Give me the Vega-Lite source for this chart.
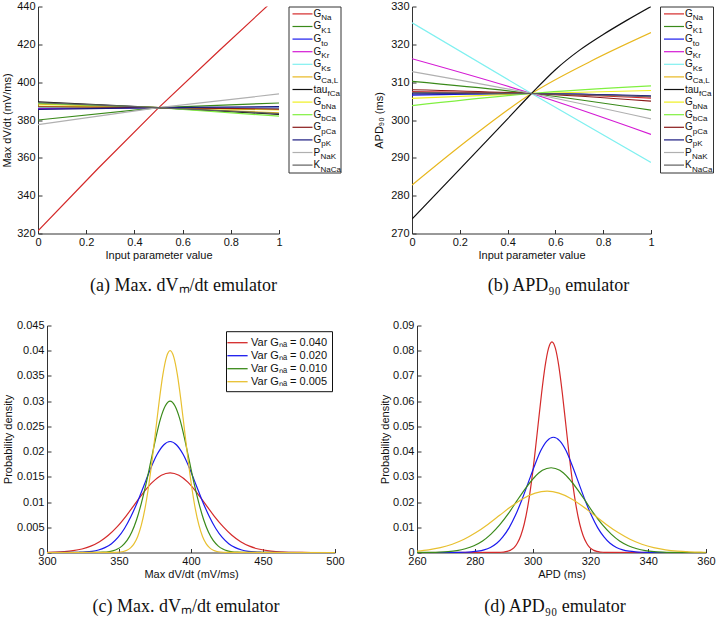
{
  "$schema": "https://vega.github.io/schema/vega-lite/v6.json",
  "background": "white",
  "padding": {"left": 1, "top": 0.5, "right": 0, "bottom": 0},
  "autosize": {"type": "pad"},
  "spacing": 25,
  "resolve": {"scale": {"color": "independent", "x": "independent", "y": "independent"}, "legend": {"color": "independent"}},
  "config": {
    "view": {"stroke": null},
    "font": "Liberation Sans",
    "axis": {"domainColor": "#333", "domainWidth": 1, "tickColor": "#333", "tickSize": -4, "labelColor": "#111", "titleColor": "#111", "labelFontSize": 11, "titleFontSize": 11, "titleFontWeight": "normal", "labelFont": "Liberation Sans", "titleFont": "Liberation Sans", "grid": false, "labelPadding": 7, "labelFlush": false, "labelOverlap": false},
    "axisX": {"titlePadding": 2},
    "title": {"font": "Liberation Serif", "fontSize": 18, "fontWeight": "normal", "color": "#111", "orient": "bottom", "anchor": "middle"}
  },
  "datasets": {
    "legend": [
      {"p": "G_Na", "base": "G", "sub": "Na"},
      {"p": "G_K1", "base": "G", "sub": "K1"},
      {"p": "G_to", "base": "G", "sub": "to"},
      {"p": "G_Kr", "base": "G", "sub": "Kr"},
      {"p": "G_Ks", "base": "G", "sub": "Ks"},
      {"p": "G_CaL", "base": "G", "sub": "Ca,L"},
      {"p": "tau_fCa", "base": "tau", "sub": "fCa"},
      {"p": "G_bNa", "base": "G", "sub": "bNa"},
      {"p": "G_bCa", "base": "G", "sub": "bCa"},
      {"p": "G_pCa", "base": "G", "sub": "pCa"},
      {"p": "G_pK", "base": "G", "sub": "pK"},
      {"p": "P_NaK", "base": "P", "sub": "NaK"},
      {"p": "K_NaCa", "base": "K", "sub": "NaCa"}
    ],
    "a": [
      {"p": "G_Na", "x": 0, "y": 321.4}, {"p": "G_Na", "x": 0.25, "y": 354.5}, {"p": "G_Na", "x": 0.5, "y": 386.4}, {"p": "G_Na", "x": 0.75, "y": 416.5}, {"p": "G_Na", "x": 1, "y": 446},
      {"p": "G_K1", "x": 0, "y": 380.0}, {"p": "G_K1", "x": 0.5, "y": 386.5}, {"p": "G_K1", "x": 1, "y": 389.0},
      {"p": "G_to", "x": 0, "y": 386.0}, {"p": "G_to", "x": 0.5, "y": 386.5}, {"p": "G_to", "x": 1, "y": 386.4},
      {"p": "G_Kr", "x": 0, "y": 386.3}, {"p": "G_Kr", "x": 0.5, "y": 386.5}, {"p": "G_Kr", "x": 1, "y": 386.6},
      {"p": "G_Ks", "x": 0, "y": 386.6}, {"p": "G_Ks", "x": 0.5, "y": 386.5}, {"p": "G_Ks", "x": 1, "y": 386.4},
      {"p": "G_CaL", "x": 0, "y": 388.4}, {"p": "G_CaL", "x": 0.5, "y": 386.5}, {"p": "G_CaL", "x": 1, "y": 383.8},
      {"p": "tau_fCa", "x": 0, "y": 389.6}, {"p": "tau_fCa", "x": 0.5, "y": 386.5}, {"p": "tau_fCa", "x": 1, "y": 383.0},
      {"p": "G_bNa", "x": 0, "y": 387.3}, {"p": "G_bNa", "x": 0.5, "y": 386.5}, {"p": "G_bNa", "x": 1, "y": 385.3},
      {"p": "G_bCa", "x": 0, "y": 388.8}, {"p": "G_bCa", "x": 0.5, "y": 386.5}, {"p": "G_bCa", "x": 1, "y": 382.0},
      {"p": "G_pCa", "x": 0, "y": 387.0}, {"p": "G_pCa", "x": 0.5, "y": 386.5}, {"p": "G_pCa", "x": 1, "y": 385.8},
      {"p": "G_pK", "x": 0, "y": 385.6}, {"p": "G_pK", "x": 0.5, "y": 386.5}, {"p": "G_pK", "x": 1, "y": 387.1},
      {"p": "P_NaK", "x": 0, "y": 377.5}, {"p": "P_NaK", "x": 0.5, "y": 386.5}, {"p": "P_NaK", "x": 1, "y": 393.8},
      {"p": "K_NaCa", "x": 0, "y": 389.2}, {"p": "K_NaCa", "x": 0.5, "y": 386.5}, {"p": "K_NaCa", "x": 1, "y": 383.4}
    ],
    "b": [
      {"p": "G_Na", "x": 0, "y": 307.5}, {"p": "G_Na", "x": 0.5, "y": 307}, {"p": "G_Na", "x": 1, "y": 305.8},
      {"p": "G_K1", "x": 0, "y": 310.2}, {"p": "G_K1", "x": 0.5, "y": 307}, {"p": "G_K1", "x": 1, "y": 302.6},
      {"p": "G_to", "x": 0, "y": 306.6}, {"p": "G_to", "x": 0.5, "y": 307}, {"p": "G_to", "x": 1, "y": 306.2},
      {"p": "G_Kr", "x": 0, "y": 316.2}, {"p": "G_Kr", "x": 0.5, "y": 307}, {"p": "G_Kr", "x": 1, "y": 296.2},
      {"p": "G_Ks", "x": 0, "y": 325.7}, {"p": "G_Ks", "x": 0.5, "y": 307}, {"p": "G_Ks", "x": 1, "y": 288.8},
      {"p": "G_CaL", "x": 0, "y": 282.8}, {"p": "G_CaL", "x": 0.25, "y": 295.5}, {"p": "G_CaL", "x": 0.5, "y": 307}, {"p": "G_CaL", "x": 0.75, "y": 315.6}, {"p": "G_CaL", "x": 1, "y": 323.1},
      {"p": "tau_fCa", "x": 0, "y": 273.8}, {"p": "tau_fCa", "x": 0.2, "y": 287}, {"p": "tau_fCa", "x": 0.4, "y": 300.3}, {"p": "tau_fCa", "x": 0.5, "y": 307}, {"p": "tau_fCa", "x": 0.6, "y": 313.3}, {"p": "tau_fCa", "x": 0.7, "y": 318.4}, {"p": "tau_fCa", "x": 0.8, "y": 322.6}, {"p": "tau_fCa", "x": 0.9, "y": 326.4}, {"p": "tau_fCa", "x": 1, "y": 330},
      {"p": "G_bNa", "x": 0, "y": 305.7}, {"p": "G_bNa", "x": 0.5, "y": 307}, {"p": "G_bNa", "x": 1, "y": 307.8},
      {"p": "G_bCa", "x": 0, "y": 303.8}, {"p": "G_bCa", "x": 0.5, "y": 307}, {"p": "G_bCa", "x": 1, "y": 309.0},
      {"p": "G_pCa", "x": 0, "y": 308.0}, {"p": "G_pCa", "x": 0.5, "y": 307}, {"p": "G_pCa", "x": 1, "y": 305.0},
      {"p": "G_pK", "x": 0, "y": 306.9}, {"p": "G_pK", "x": 0.5, "y": 307}, {"p": "G_pK", "x": 1, "y": 306.4},
      {"p": "P_NaK", "x": 0, "y": 312.8}, {"p": "P_NaK", "x": 0.5, "y": 307}, {"p": "P_NaK", "x": 1, "y": 300.3},
      {"p": "K_NaCa", "x": 0, "y": 307.3}, {"p": "K_NaCa", "x": 0.5, "y": 307}, {"p": "K_NaCa", "x": 1, "y": 306.2}
    ],
    "c": [
      {"s": "Var Gₙₐ = 0.040", "x": 300, "y": 0.00004}, {"s": "Var Gₙₐ = 0.040", "x": 305.9, "y": 0.00008}, {"s": "Var Gₙₐ = 0.040", "x": 312.0, "y": 0.00018}, {"s": "Var Gₙₐ = 0.040", "x": 318.1, "y": 0.00036}, {"s": "Var Gₙₐ = 0.040", "x": 324.3, "y": 0.00069}, {"s": "Var Gₙₐ = 0.040", "x": 330.4, "y": 0.00126}, {"s": "Var Gₙₐ = 0.040", "x": 336.5, "y": 0.00214}, {"s": "Var Gₙₐ = 0.040", "x": 342.6, "y": 0.00342}, {"s": "Var Gₙₐ = 0.040", "x": 348.8, "y": 0.00513}, {"s": "Var Gₙₐ = 0.040", "x": 354.9, "y": 0.00723}, {"s": "Var Gₙₐ = 0.040", "x": 361.0, "y": 0.00958}, {"s": "Var Gₙₐ = 0.040", "x": 367.1, "y": 0.01193}, {"s": "Var Gₙₐ = 0.040", "x": 373.3, "y": 0.01394}, {"s": "Var Gₙₐ = 0.040", "x": 379.4, "y": 0.01531}, {"s": "Var Gₙₐ = 0.040", "x": 385.5, "y": 0.0158}, {"s": "Var Gₙₐ = 0.040", "x": 391.6, "y": 0.01531}, {"s": "Var Gₙₐ = 0.040", "x": 397.8, "y": 0.01394}, {"s": "Var Gₙₐ = 0.040", "x": 403.9, "y": 0.01193}, {"s": "Var Gₙₐ = 0.040", "x": 410.0, "y": 0.00958}, {"s": "Var Gₙₐ = 0.040", "x": 416.1, "y": 0.00723}, {"s": "Var Gₙₐ = 0.040", "x": 422.3, "y": 0.00513}, {"s": "Var Gₙₐ = 0.040", "x": 428.4, "y": 0.00342}, {"s": "Var Gₙₐ = 0.040", "x": 434.5, "y": 0.00214}, {"s": "Var Gₙₐ = 0.040", "x": 440.6, "y": 0.00126}, {"s": "Var Gₙₐ = 0.040", "x": 446.8, "y": 0.00069}, {"s": "Var Gₙₐ = 0.040", "x": 452.9, "y": 0.00036}, {"s": "Var Gₙₐ = 0.040", "x": 459.0, "y": 0.00018}, {"s": "Var Gₙₐ = 0.040", "x": 465.1, "y": 0.00008}, {"s": "Var Gₙₐ = 0.040", "x": 471.3, "y": 0.00003}, {"s": "Var Gₙₐ = 0.040", "x": 477.4, "y": 0.00001}, {"s": "Var Gₙₐ = 0.040", "x": 483.5, "y": 0}, {"s": "Var Gₙₐ = 0.040", "x": 500, "y": 0},
      {"s": "Var Gₙₐ = 0.020", "x": 300, "y": 0}, {"s": "Var Gₙₐ = 0.020", "x": 313.1, "y": 0.00001}, {"s": "Var Gₙₐ = 0.020", "x": 317.6, "y": 0.00002}, {"s": "Var Gₙₐ = 0.020", "x": 322.1, "y": 0.00005}, {"s": "Var Gₙₐ = 0.020", "x": 326.7, "y": 0.00011}, {"s": "Var Gₙₐ = 0.020", "x": 331.2, "y": 0.00024}, {"s": "Var Gₙₐ = 0.020", "x": 335.7, "y": 0.0005}, {"s": "Var Gₙₐ = 0.020", "x": 340.2, "y": 0.00097}, {"s": "Var Gₙₐ = 0.020", "x": 344.8, "y": 0.00175}, {"s": "Var Gₙₐ = 0.020", "x": 349.3, "y": 0.00298}, {"s": "Var Gₙₐ = 0.020", "x": 353.8, "y": 0.00476}, {"s": "Var Gₙₐ = 0.020", "x": 358.3, "y": 0.00714}, {"s": "Var Gₙₐ = 0.020", "x": 362.9, "y": 0.01007}, {"s": "Var Gₙₐ = 0.020", "x": 367.4, "y": 0.01334}, {"s": "Var Gₙₐ = 0.020", "x": 371.9, "y": 0.01661}, {"s": "Var Gₙₐ = 0.020", "x": 376.4, "y": 0.01942}, {"s": "Var Gₙₐ = 0.020", "x": 381.0, "y": 0.02132}, {"s": "Var Gₙₐ = 0.020", "x": 385.5, "y": 0.022}, {"s": "Var Gₙₐ = 0.020", "x": 390.0, "y": 0.02132}, {"s": "Var Gₙₐ = 0.020", "x": 394.6, "y": 0.01942}, {"s": "Var Gₙₐ = 0.020", "x": 399.1, "y": 0.01661}, {"s": "Var Gₙₐ = 0.020", "x": 403.6, "y": 0.01334}, {"s": "Var Gₙₐ = 0.020", "x": 408.1, "y": 0.01007}, {"s": "Var Gₙₐ = 0.020", "x": 412.7, "y": 0.00714}, {"s": "Var Gₙₐ = 0.020", "x": 417.2, "y": 0.00476}, {"s": "Var Gₙₐ = 0.020", "x": 421.7, "y": 0.00298}, {"s": "Var Gₙₐ = 0.020", "x": 426.2, "y": 0.00175}, {"s": "Var Gₙₐ = 0.020", "x": 430.8, "y": 0.00097}, {"s": "Var Gₙₐ = 0.020", "x": 435.3, "y": 0.0005}, {"s": "Var Gₙₐ = 0.020", "x": 439.8, "y": 0.00024}, {"s": "Var Gₙₐ = 0.020", "x": 444.3, "y": 0.00011}, {"s": "Var Gₙₐ = 0.020", "x": 448.9, "y": 0.00005}, {"s": "Var Gₙₐ = 0.020", "x": 453.4, "y": 0.00002}, {"s": "Var Gₙₐ = 0.020", "x": 457.9, "y": 0.00001}, {"s": "Var Gₙₐ = 0.020", "x": 500, "y": 0},
      {"s": "Var Gₙₐ = 0.010", "x": 300, "y": 0}, {"s": "Var Gₙₐ = 0.010", "x": 332.3, "y": 0.00001}, {"s": "Var Gₙₐ = 0.010", "x": 335.6, "y": 0.00003}, {"s": "Var Gₙₐ = 0.010", "x": 338.9, "y": 0.00007}, {"s": "Var Gₙₐ = 0.010", "x": 342.3, "y": 0.00015}, {"s": "Var Gₙₐ = 0.010", "x": 345.6, "y": 0.00033}, {"s": "Var Gₙₐ = 0.010", "x": 348.9, "y": 0.00068}, {"s": "Var Gₙₐ = 0.010", "x": 352.2, "y": 0.00132}, {"s": "Var Gₙₐ = 0.010", "x": 355.6, "y": 0.00239}, {"s": "Var Gₙₐ = 0.010", "x": 358.9, "y": 0.00406}, {"s": "Var Gₙₐ = 0.010", "x": 362.2, "y": 0.00649}, {"s": "Var Gₙₐ = 0.010", "x": 365.5, "y": 0.00974}, {"s": "Var Gₙₐ = 0.010", "x": 368.9, "y": 0.01373}, {"s": "Var Gₙₐ = 0.010", "x": 372.2, "y": 0.0182}, {"s": "Var Gₙₐ = 0.010", "x": 375.5, "y": 0.02264}, {"s": "Var Gₙₐ = 0.010", "x": 378.8, "y": 0.02648}, {"s": "Var Gₙₐ = 0.010", "x": 382.2, "y": 0.02908}, {"s": "Var Gₙₐ = 0.010", "x": 385.5, "y": 0.03}, {"s": "Var Gₙₐ = 0.010", "x": 388.8, "y": 0.02908}, {"s": "Var Gₙₐ = 0.010", "x": 392.2, "y": 0.02648}, {"s": "Var Gₙₐ = 0.010", "x": 395.5, "y": 0.02264}, {"s": "Var Gₙₐ = 0.010", "x": 398.8, "y": 0.0182}, {"s": "Var Gₙₐ = 0.010", "x": 402.1, "y": 0.01373}, {"s": "Var Gₙₐ = 0.010", "x": 405.5, "y": 0.00974}, {"s": "Var Gₙₐ = 0.010", "x": 408.8, "y": 0.00649}, {"s": "Var Gₙₐ = 0.010", "x": 412.1, "y": 0.00406}, {"s": "Var Gₙₐ = 0.010", "x": 415.4, "y": 0.00239}, {"s": "Var Gₙₐ = 0.010", "x": 418.8, "y": 0.00132}, {"s": "Var Gₙₐ = 0.010", "x": 422.1, "y": 0.00068}, {"s": "Var Gₙₐ = 0.010", "x": 425.4, "y": 0.00033}, {"s": "Var Gₙₐ = 0.010", "x": 428.7, "y": 0.00015}, {"s": "Var Gₙₐ = 0.010", "x": 432.1, "y": 0.00007}, {"s": "Var Gₙₐ = 0.010", "x": 435.4, "y": 0.00003}, {"s": "Var Gₙₐ = 0.010", "x": 438.7, "y": 0.00001}, {"s": "Var Gₙₐ = 0.010", "x": 500, "y": 0},
      {"s": "Var Gₙₐ = 0.005", "x": 300, "y": 0}, {"s": "Var Gₙₐ = 0.005", "x": 345.5, "y": 0.00001}, {"s": "Var Gₙₐ = 0.005", "x": 348, "y": 0.00004}, {"s": "Var Gₙₐ = 0.005", "x": 350.5, "y": 0.00009}, {"s": "Var Gₙₐ = 0.005", "x": 353, "y": 0.0002}, {"s": "Var Gₙₐ = 0.005", "x": 355.5, "y": 0.00044}, {"s": "Var Gₙₐ = 0.005", "x": 358, "y": 0.00091}, {"s": "Var Gₙₐ = 0.005", "x": 360.5, "y": 0.00176}, {"s": "Var Gₙₐ = 0.005", "x": 363, "y": 0.00318}, {"s": "Var Gₙₐ = 0.005", "x": 365.5, "y": 0.00541}, {"s": "Var Gₙₐ = 0.005", "x": 368, "y": 0.00865}, {"s": "Var Gₙₐ = 0.005", "x": 370.5, "y": 0.01299}, {"s": "Var Gₙₐ = 0.005", "x": 373, "y": 0.01831}, {"s": "Var Gₙₐ = 0.005", "x": 375.5, "y": 0.02426}, {"s": "Var Gₙₐ = 0.005", "x": 378, "y": 0.03019}, {"s": "Var Gₙₐ = 0.005", "x": 380.5, "y": 0.0353}, {"s": "Var Gₙₐ = 0.005", "x": 383, "y": 0.03877}, {"s": "Var Gₙₐ = 0.005", "x": 385.5, "y": 0.04}, {"s": "Var Gₙₐ = 0.005", "x": 388, "y": 0.03877}, {"s": "Var Gₙₐ = 0.005", "x": 390.5, "y": 0.0353}, {"s": "Var Gₙₐ = 0.005", "x": 393, "y": 0.03019}, {"s": "Var Gₙₐ = 0.005", "x": 395.5, "y": 0.02426}, {"s": "Var Gₙₐ = 0.005", "x": 398, "y": 0.01831}, {"s": "Var Gₙₐ = 0.005", "x": 400.5, "y": 0.01299}, {"s": "Var Gₙₐ = 0.005", "x": 403, "y": 0.00865}, {"s": "Var Gₙₐ = 0.005", "x": 405.5, "y": 0.00541}, {"s": "Var Gₙₐ = 0.005", "x": 408, "y": 0.00318}, {"s": "Var Gₙₐ = 0.005", "x": 410.5, "y": 0.00176}, {"s": "Var Gₙₐ = 0.005", "x": 413, "y": 0.00091}, {"s": "Var Gₙₐ = 0.005", "x": 415.5, "y": 0.00044}, {"s": "Var Gₙₐ = 0.005", "x": 418, "y": 0.0002}, {"s": "Var Gₙₐ = 0.005", "x": 420.5, "y": 0.00009}, {"s": "Var Gₙₐ = 0.005", "x": 423, "y": 0.00004}, {"s": "Var Gₙₐ = 0.005", "x": 425.5, "y": 0.00001}, {"s": "Var Gₙₐ = 0.005", "x": 500, "y": 0}
    ],
    "d": [
      {"s": "r", "x": 260, "y": 0}, {"s": "r", "x": 287.6, "y": 0.00003}, {"s": "r", "x": 288.8, "y": 0.00008}, {"s": "r", "x": 290.0, "y": 0.00018}, {"s": "r", "x": 291.2, "y": 0.00043}, {"s": "r", "x": 292.4, "y": 0.00093}, {"s": "r", "x": 293.6, "y": 0.0019}, {"s": "r", "x": 294.7, "y": 0.00367}, {"s": "r", "x": 295.9, "y": 0.00665}, {"s": "r", "x": 297.1, "y": 0.0113}, {"s": "r", "x": 298.3, "y": 0.01806}, {"s": "r", "x": 299.5, "y": 0.02711}, {"s": "r", "x": 300.7, "y": 0.03823}, {"s": "r", "x": 301.9, "y": 0.05064}, {"s": "r", "x": 303.1, "y": 0.06303}, {"s": "r", "x": 304.3, "y": 0.07369}, {"s": "r", "x": 305.5, "y": 0.08093}, {"s": "r", "x": 306.7, "y": 0.0835}, {"s": "r", "x": 307.9, "y": 0.08093}, {"s": "r", "x": 309.1, "y": 0.07369}, {"s": "r", "x": 310.3, "y": 0.06303}, {"s": "r", "x": 311.5, "y": 0.05064}, {"s": "r", "x": 312.7, "y": 0.03823}, {"s": "r", "x": 313.9, "y": 0.02711}, {"s": "r", "x": 315.1, "y": 0.01806}, {"s": "r", "x": 316.3, "y": 0.0113}, {"s": "r", "x": 317.5, "y": 0.00665}, {"s": "r", "x": 318.7, "y": 0.00367}, {"s": "r", "x": 319.8, "y": 0.0019}, {"s": "r", "x": 321.0, "y": 0.00093}, {"s": "r", "x": 322.2, "y": 0.00043}, {"s": "r", "x": 323.4, "y": 0.00018}, {"s": "r", "x": 324.6, "y": 0.00008}, {"s": "r", "x": 325.8, "y": 0.00003}, {"s": "r", "x": 360, "y": 0},
      {"s": "b", "x": 260, "y": 0}, {"s": "b", "x": 272.3, "y": 0.00001}, {"s": "b", "x": 274.5, "y": 0.00004}, {"s": "b", "x": 276.6, "y": 0.0001}, {"s": "b", "x": 278.8, "y": 0.00023}, {"s": "b", "x": 281.0, "y": 0.00051}, {"s": "b", "x": 283.2, "y": 0.00104}, {"s": "b", "x": 285.4, "y": 0.00201}, {"s": "b", "x": 287.6, "y": 0.00364}, {"s": "b", "x": 289.7, "y": 0.00618}, {"s": "b", "x": 291.9, "y": 0.00988}, {"s": "b", "x": 294.1, "y": 0.01484}, {"s": "b", "x": 296.3, "y": 0.02092}, {"s": "b", "x": 298.5, "y": 0.02772}, {"s": "b", "x": 300.7, "y": 0.03449}, {"s": "b", "x": 302.8, "y": 0.04033}, {"s": "b", "x": 305.0, "y": 0.04429}, {"s": "b", "x": 307.2, "y": 0.0457}, {"s": "b", "x": 309.4, "y": 0.04429}, {"s": "b", "x": 311.6, "y": 0.04033}, {"s": "b", "x": 313.7, "y": 0.03449}, {"s": "b", "x": 315.9, "y": 0.02772}, {"s": "b", "x": 318.1, "y": 0.02092}, {"s": "b", "x": 320.3, "y": 0.01484}, {"s": "b", "x": 322.5, "y": 0.00988}, {"s": "b", "x": 324.7, "y": 0.00618}, {"s": "b", "x": 326.8, "y": 0.00364}, {"s": "b", "x": 329.0, "y": 0.00201}, {"s": "b", "x": 331.2, "y": 0.00104}, {"s": "b", "x": 333.4, "y": 0.00051}, {"s": "b", "x": 335.6, "y": 0.00023}, {"s": "b", "x": 337.8, "y": 0.0001}, {"s": "b", "x": 339.9, "y": 0.00004}, {"s": "b", "x": 342.1, "y": 0.00001}, {"s": "b", "x": 360, "y": 0},
      {"s": "g", "x": 260, "y": 0.00002}, {"s": "g", "x": 261.9, "y": 0.00003}, {"s": "g", "x": 264.9, "y": 0.00007}, {"s": "g", "x": 267.8, "y": 0.00017}, {"s": "g", "x": 270.8, "y": 0.00037}, {"s": "g", "x": 273.8, "y": 0.00077}, {"s": "g", "x": 276.7, "y": 0.00148}, {"s": "g", "x": 279.7, "y": 0.00267}, {"s": "g", "x": 282.7, "y": 0.00455}, {"s": "g", "x": 285.6, "y": 0.00727}, {"s": "g", "x": 288.6, "y": 0.01091}, {"s": "g", "x": 291.6, "y": 0.01538}, {"s": "g", "x": 294.5, "y": 0.02038}, {"s": "g", "x": 297.5, "y": 0.02536}, {"s": "g", "x": 300.5, "y": 0.02965}, {"s": "g", "x": 303.4, "y": 0.03257}, {"s": "g", "x": 306.4, "y": 0.0336}, {"s": "g", "x": 309.4, "y": 0.03257}, {"s": "g", "x": 312.3, "y": 0.02965}, {"s": "g", "x": 315.3, "y": 0.02536}, {"s": "g", "x": 318.3, "y": 0.02038}, {"s": "g", "x": 321.2, "y": 0.01538}, {"s": "g", "x": 324.2, "y": 0.01091}, {"s": "g", "x": 327.2, "y": 0.00727}, {"s": "g", "x": 330.1, "y": 0.00455}, {"s": "g", "x": 333.1, "y": 0.00267}, {"s": "g", "x": 336.1, "y": 0.00148}, {"s": "g", "x": 339.0, "y": 0.00077}, {"s": "g", "x": 342.0, "y": 0.00037}, {"s": "g", "x": 345.0, "y": 0.00017}, {"s": "g", "x": 347.9, "y": 0.00007}, {"s": "g", "x": 350.9, "y": 0.00003}, {"s": "g", "x": 353.9, "y": 0.00001}, {"s": "g", "x": 360, "y": 0},
      {"s": "y", "x": 260, "y": 0.00056}, {"s": "y", "x": 264.0, "y": 0.00107}, {"s": "y", "x": 268.1, "y": 0.00193}, {"s": "y", "x": 272.2, "y": 0.00329}, {"s": "y", "x": 276.3, "y": 0.00526}, {"s": "y", "x": 280.4, "y": 0.00789}, {"s": "y", "x": 284.5, "y": 0.01112}, {"s": "y", "x": 288.6, "y": 0.01474}, {"s": "y", "x": 292.7, "y": 0.01834}, {"s": "y", "x": 296.8, "y": 0.02144}, {"s": "y", "x": 300.9, "y": 0.02355}, {"s": "y", "x": 305.0, "y": 0.0243}, {"s": "y", "x": 309.1, "y": 0.02355}, {"s": "y", "x": 313.2, "y": 0.02144}, {"s": "y", "x": 317.3, "y": 0.01834}, {"s": "y", "x": 321.4, "y": 0.01474}, {"s": "y", "x": 325.5, "y": 0.01112}, {"s": "y", "x": 329.6, "y": 0.00789}, {"s": "y", "x": 333.7, "y": 0.00526}, {"s": "y", "x": 337.8, "y": 0.00329}, {"s": "y", "x": 341.9, "y": 0.00193}, {"s": "y", "x": 346.0, "y": 0.00107}, {"s": "y", "x": 350.1, "y": 0.00055}, {"s": "y", "x": 354.2, "y": 0.00027}, {"s": "y", "x": 358.3, "y": 0.00012}, {"s": "y", "x": 360, "y": 0.00009}
    ]
  },
  "vconcat": [
    {
      "spacing": 31,
      "resolve": {"scale": {"color": "independent"}, "legend": {"color": "independent"}},
      "hconcat": [
        {
          "bounds": "flush",
          "spacing": 9.5,
          "hconcat": [
            {
              "width": 241, "height": 227,
              "data": {"name": "a"},
              "title": {"text": "(a) Max. dVₘ/dt emulator", "offset": 16, "dx": 25},
              "mark": {"type": "line", "strokeWidth": 1.2, "clip": true},
              "encoding": {
                "x": {"field": "x", "type": "quantitative", "scale": {"domain": [0, 1], "nice": false}, "axis": {"title": "Input parameter value", "format": "~g", "values": [0, 0.2, 0.4, 0.6, 0.8, 1]}},
                "y": {"field": "y", "type": "quantitative", "scale": {"domain": [320, 440], "nice": false, "zero": false}, "axis": {"title": "Max dV/dt (mV/ms)", "titlePadding": 4, "values": [320, 340, 360, 380, 400, 420, 440]}},
                "color": {"field": "p", "type": "nominal", "legend": null, "scale": {"domain": ["G_Na", "G_K1", "G_to", "G_Kr", "G_Ks", "G_CaL", "tau_fCa", "G_bNa", "G_bCa", "G_pCa", "G_pK", "P_NaK", "K_NaCa"], "range": ["#d42a2a", "#3a8a1a", "#1a1aee", "#d41ad4", "#80f0f0", "#e8b820", "#111111", "#f0f020", "#80f040", "#8a1a1a", "#1a1a80", "#b0b0b0", "#606060"]}}
              }
            },
            {
              "width": 52, "height": 166,
              "view": {"stroke": "#333", "strokeWidth": 1},
              "data": {"name": "legend"},
              "encoding": {
                "y": {"field": "p", "type": "nominal", "sort": null, "axis": null, "scale": {"type": "point", "padding": 0.587, "domain": ["G_Na", "G_K1", "G_to", "G_Kr", "G_Ks", "G_CaL", "tau_fCa", "G_bNa", "G_bCa", "G_pCa", "G_pK", "P_NaK", "K_NaCa"]}}
              },
              "layer": [
                {"mark": {"type": "rule", "strokeWidth": 1.2}, "encoding": {"x": {"datum": 4, "type": "quantitative", "scale": {"domain": [0, 52], "nice": false, "zero": false}, "axis": null}, "x2": {"datum": 24}, "color": {"field": "p", "type": "nominal", "legend": null, "scale": {"domain": ["G_Na", "G_K1", "G_to", "G_Kr", "G_Ks", "G_CaL", "tau_fCa", "G_bNa", "G_bCa", "G_pCa", "G_pK", "P_NaK", "K_NaCa"], "range": ["#d42a2a", "#3a8a1a", "#1a1aee", "#d41ad4", "#80f0f0", "#e8b820", "#111111", "#f0f020", "#80f040", "#8a1a1a", "#1a1a80", "#b0b0b0", "#606060"]}}}},
                {"mark": {"type": "text", "align": "left", "baseline": "middle", "fontSize": 10, "color": "#111"}, "encoding": {"x": {"datum": 25, "type": "quantitative"}, "text": {"field": "base"}}},
                {"transform": [{"filter": "datum.base === 'G'"}], "mark": {"type": "text", "align": "left", "baseline": "middle", "fontSize": 8, "dx": 7.8, "dy": 4.5, "color": "#111"}, "encoding": {"x": {"datum": 25, "type": "quantitative"}, "text": {"field": "sub"}}},
                {"transform": [{"filter": "datum.base === 'tau'"}], "mark": {"type": "text", "align": "left", "baseline": "middle", "fontSize": 8, "dx": 14, "dy": 4.5, "color": "#111"}, "encoding": {"x": {"datum": 25, "type": "quantitative"}, "text": {"field": "sub"}}},
                {"transform": [{"filter": "datum.base === 'P' || datum.base === 'K'"}], "mark": {"type": "text", "align": "left", "baseline": "middle", "fontSize": 8, "dx": 6.9, "dy": 4.5, "color": "#111"}, "encoding": {"x": {"datum": 25, "type": "quantitative"}, "text": {"field": "sub"}}}
              ]
            }
          ]
        },
        {
          "bounds": "flush",
          "spacing": 9,
          "hconcat": [
            {
              "width": 239, "height": 227,
              "data": {"name": "b"},
              "title": {"text": "(b) APD₉₀ emulator", "offset": 16, "dx": 27},
              "mark": {"type": "line", "strokeWidth": 1.2, "clip": true, "interpolate": "monotone"},
              "encoding": {
                "x": {"field": "x", "type": "quantitative", "scale": {"domain": [0, 1], "nice": false}, "axis": {"title": "Input parameter value", "format": "~g", "values": [0, 0.2, 0.4, 0.6, 0.8, 1]}},
                "y": {"field": "y", "type": "quantitative", "scale": {"domain": [270, 330], "nice": false, "zero": false}, "axis": {"title": "APD₉₀ (ms)", "titlePadding": 6, "values": [270, 280, 290, 300, 310, 320, 330]}},
                "color": {"field": "p", "type": "nominal", "legend": null, "scale": {"domain": ["G_Na", "G_K1", "G_to", "G_Kr", "G_Ks", "G_CaL", "tau_fCa", "G_bNa", "G_bCa", "G_pCa", "G_pK", "P_NaK", "K_NaCa"], "range": ["#d42a2a", "#3a8a1a", "#1a1aee", "#d41ad4", "#80f0f0", "#e8b820", "#111111", "#f0f020", "#80f040", "#8a1a1a", "#1a1a80", "#b0b0b0", "#606060"]}}
              }
            },
            {
              "width": 53, "height": 166,
              "view": {"stroke": "#333", "strokeWidth": 1},
              "data": {"name": "legend"},
              "encoding": {
                "y": {"field": "p", "type": "nominal", "sort": null, "axis": null, "scale": {"type": "point", "padding": 0.587, "domain": ["G_Na", "G_K1", "G_to", "G_Kr", "G_Ks", "G_CaL", "tau_fCa", "G_bNa", "G_bCa", "G_pCa", "G_pK", "P_NaK", "K_NaCa"]}}
              },
              "layer": [
                {"mark": {"type": "rule", "strokeWidth": 1.2}, "encoding": {"x": {"datum": 4, "type": "quantitative", "scale": {"domain": [0, 53], "nice": false, "zero": false}, "axis": null}, "x2": {"datum": 24}, "color": {"field": "p", "type": "nominal", "legend": null, "scale": {"domain": ["G_Na", "G_K1", "G_to", "G_Kr", "G_Ks", "G_CaL", "tau_fCa", "G_bNa", "G_bCa", "G_pCa", "G_pK", "P_NaK", "K_NaCa"], "range": ["#d42a2a", "#3a8a1a", "#1a1aee", "#d41ad4", "#80f0f0", "#e8b820", "#111111", "#f0f020", "#80f040", "#8a1a1a", "#1a1a80", "#b0b0b0", "#606060"]}}}},
                {"mark": {"type": "text", "align": "left", "baseline": "middle", "fontSize": 10, "color": "#111"}, "encoding": {"x": {"datum": 25, "type": "quantitative"}, "text": {"field": "base"}}},
                {"transform": [{"filter": "datum.base === 'G'"}], "mark": {"type": "text", "align": "left", "baseline": "middle", "fontSize": 8, "dx": 7.8, "dy": 4.5, "color": "#111"}, "encoding": {"x": {"datum": 25, "type": "quantitative"}, "text": {"field": "sub"}}},
                {"transform": [{"filter": "datum.base === 'tau'"}], "mark": {"type": "text", "align": "left", "baseline": "middle", "fontSize": 8, "dx": 14, "dy": 4.5, "color": "#111"}, "encoding": {"x": {"datum": 25, "type": "quantitative"}, "text": {"field": "sub"}}},
                {"transform": [{"filter": "datum.base === 'P' || datum.base === 'K'"}], "mark": {"type": "text", "align": "left", "baseline": "middle", "fontSize": 8, "dx": 6.9, "dy": 4.5, "color": "#111"}, "encoding": {"x": {"datum": 25, "type": "quantitative"}, "text": {"field": "sub"}}}
              ]
            }
          ]
        }
      ]
    },
    {
      "bounds": "flush",
      "spacing": 0,
      "resolve": {"scale": {"color": "independent"}, "legend": {"color": "independent"}},
      "hconcat": [
        {"width": 9, "height": 1, "data": {"values": []}, "mark": "point"},
        {
          "width": 288, "height": 227,
          "data": {"name": "c"},
          "title": {"text": "(c) Max. dVₘ/dt emulator", "offset": 18, "dx": -5},
          "mark": {"type": "line", "strokeWidth": 1.2, "interpolate": "monotone"},
          "encoding": {
            "x": {"field": "x", "type": "quantitative", "scale": {"domain": [300, 500], "nice": false, "zero": false}, "axis": {"title": "Max dV/dt (mV/ms)", "values": [300, 350, 400, 450, 500]}},
            "y": {"field": "y", "type": "quantitative", "scale": {"domain": [0, 0.045], "nice": false}, "axis": {"title": "Probability density", "titlePadding": 3.4, "format": "~g", "values": [0, 0.005, 0.01, 0.015, 0.02, 0.025, 0.03, 0.035, 0.04, 0.045]}},
            "color": {"field": "s", "type": "nominal", "scale": {"domain": ["Var Gₙₐ = 0.040", "Var Gₙₐ = 0.020", "Var Gₙₐ = 0.010", "Var Gₙₐ = 0.005"], "range": ["#d42a2a", "#1a1aee", "#3a8a1a", "#e8c030"]},
              "legend": {"orient": "none", "legendX": 179, "legendY": 5.7, "title": null, "strokeColor": "#111", "fillColor": "white", "padding": 4, "cornerRadius": 0, "symbolType": "M-1.5,0H1.5", "symbolSize": 182, "symbolStrokeWidth": 1.3, "labelFontSize": 11, "labelFont": "Liberation Sans", "labelColor": "#111", "rowPadding": 0, "labelOffset": 6}}
          }
        },
        {"width": 82, "height": 1, "data": {"values": []}, "mark": "point"},
        {
          "width": 289, "height": 227,
          "data": {"name": "d"},
          "title": {"text": "(d) APD₉₀ emulator", "offset": 18, "dx": -6.5},
          "mark": {"type": "line", "strokeWidth": 1.2, "interpolate": "monotone"},
          "encoding": {
            "x": {"field": "x", "type": "quantitative", "scale": {"domain": [260, 360], "nice": false, "zero": false}, "axis": {"title": "APD (ms)", "values": [260, 280, 300, 320, 340, 360]}},
            "y": {"field": "y", "type": "quantitative", "scale": {"domain": [0, 0.09], "nice": false}, "axis": {"title": "Probability density", "titlePadding": 2.5, "format": "~g", "values": [0, 0.01, 0.02, 0.03, 0.04, 0.05, 0.06, 0.07, 0.08, 0.09]}},
            "color": {"field": "s", "type": "nominal", "legend": null, "scale": {"domain": ["r", "b", "g", "y"], "range": ["#d42a2a", "#1a1aee", "#3a8a1a", "#e8c030"]}}
          }
        }
      ]
    }
  ]
}
